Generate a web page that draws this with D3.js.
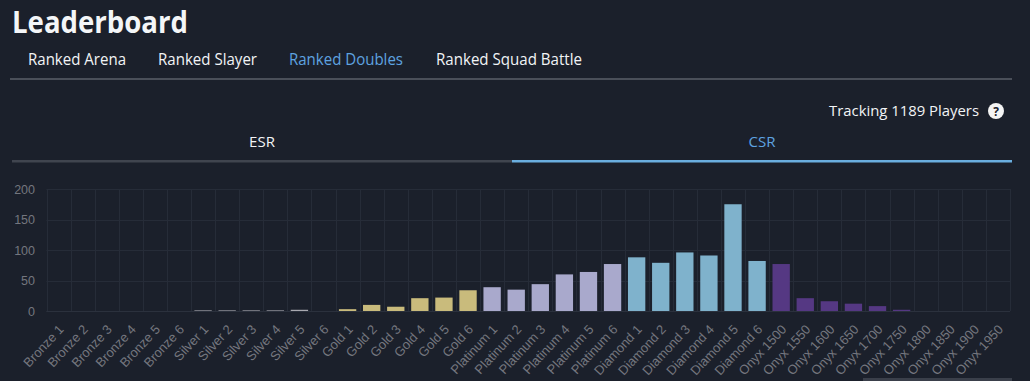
<!DOCTYPE html>
<html><head><meta charset="utf-8">
<script src="https://cdn.jsdelivr.net/npm/d3@7/dist/d3.min.js"></script>
<style>
html,body{margin:0;padding:0;background:#1b202b;overflow:hidden;}
svg{display:block;}
</style></head>
<body>
<svg id="c" width="1030" height="381"></svg>
<script>
const categories = ["Bronze 1","Bronze 2","Bronze 3","Bronze 4","Bronze 5","Bronze 6",
 "Silver 1","Silver 2","Silver 3","Silver 4","Silver 5","Silver 6",
 "Gold 1","Gold 2","Gold 3","Gold 4","Gold 5","Gold 6",
 "Platinum 1","Platinum 2","Platinum 3","Platinum 4","Platinum 5","Platinum 6",
 "Diamond 1","Diamond 2","Diamond 3","Diamond 4","Diamond 5","Diamond 6",
 "Onyx 1500","Onyx 1550","Onyx 1600","Onyx 1650","Onyx 1700","Onyx 1750","Onyx 1800","Onyx 1850","Onyx 1900","Onyx 1950"];
const players = [0,0,0,0,0,0,
 1,1,1,1,2,0,
 3,10,7,21,22,34,
 39,35,44,60,64,77,
 88,79,96,91,175,82,
 77,21,16,12,8,2,0,0,0,0];
const tiers = ["Bronze","Silver","Gold","Platinum","Diamond","Onyx"];
const tierColors = ["#b08a6a","#a9a9b0","#c9bb7c","#a9a9cc","#7fb2cc","#553883"];
const yTicks = [0,50,100,150,200];
const navTabs = ["Ranked Arena","Ranked Slayer","Ranked Doubles","Ranked Squad Battle"];
const activeNav = "Ranked Doubles";
const modeTabs = ["ESR","CSR"];
const activeMode = "CSR";
const trackedPlayers = 1189;

const svg = d3.select("#c");
const W = 1030, H = 381;
svg.append("rect").attr("width",W).attr("height",H).attr("fill","#1b202b");

const uiFont = "'Open Sans', 'Noto Sans', sans-serif";
svg.append("text").attr("x",12).attr("y",33).attr("fill","#f4f6f8")
  .attr("font-family",uiFont).attr("font-weight",700).attr("font-size",31)
  .attr("textLength",176).attr("lengthAdjust","spacingAndGlyphs")
  .text("Leaderboard");

const navX = [28,158,289,436];
const navW = [98,99,114,146];
navTabs.forEach((t,i)=>{
  svg.append("text").attr("x",navX[i]).attr("y",65)
    .attr("fill", t===activeNav ? "#5ea3e0" : "#f2f4f6")
    .attr("font-family",uiFont).attr("font-size",15.5)
    .attr("textLength",navW[i]).attr("lengthAdjust","spacingAndGlyphs")
    .text(t);
});
svg.append("rect").attr("x",10).attr("y",78).attr("width",1002).attr("height",2).attr("fill","#4a4f59");

svg.append("text").attr("x",979).attr("y",115.5).attr("text-anchor","end")
  .attr("fill","#f2f4f6").attr("font-family",uiFont).attr("font-size",15)
  .attr("textLength",150).attr("lengthAdjust","spacingAndGlyphs")
  .text(`Tracking ${trackedPlayers} Players`);
svg.append("circle").attr("cx",996).attr("cy",111).attr("r",8).attr("fill","#f4f4f4");
svg.append("text").attr("x",996).attr("y",115.5).attr("text-anchor","middle")
  .attr("fill","#1b202b").attr("font-family",uiFont).attr("font-weight",700).attr("font-size",12).text("?");

modeTabs.forEach((t,i)=>{
  const x0 = 12 + i*500;
  svg.append("text").attr("x",x0+250).attr("y",147).attr("text-anchor","middle")
    .attr("fill", t===activeMode ? "#5ea3e0" : "#f2f4f6")
    .attr("font-family",uiFont).attr("font-size",15).text(t);
  svg.append("rect").attr("x",x0).attr("y",160).attr("width",500).attr("height",2.5)
    .attr("fill", t===activeMode ? "#6aaedf" : "#40454f");
});

const m = {left:46.5, right:1010, top:189, bottom:311};
const x = d3.scaleBand().domain(categories).range([m.left,m.right]).paddingInner(0).paddingOuter(0);
const y = d3.scaleLinear().domain([0,200]).range([m.bottom,m.top]);

const g = svg.append("g");
const gridColor = "#262c38";
g.selectAll(".hg").data(yTicks).join("line")
  .attr("x1",m.left).attr("x2",m.right).attr("y1",d=>Math.round(y(d))+0.5).attr("y2",d=>Math.round(y(d))+0.5)
  .attr("stroke",gridColor).attr("stroke-width",1);
const vlines = categories.map(c=>x(c)).concat([m.right]);
g.selectAll(".vg").data(vlines).join("line")
  .attr("x1",d=>Math.round(d)+0.5).attr("x2",d=>Math.round(d)+0.5).attr("y1",m.top).attr("y2",m.bottom)
  .attr("stroke",gridColor).attr("stroke-width",1);
g.append("line").attr("x1",m.left).attr("x2",m.right).attr("y1",m.bottom+0.5).attr("y2",m.bottom+0.5)
  .attr("stroke","#2b313d");

const axisFont = "'Liberation Sans', Arial, sans-serif";
const labelColor = "#74767e";
g.selectAll(".yl").data(yTicks).join("text")
  .attr("x",35).attr("y",d=>y(d)+4.5).attr("text-anchor","end")
  .attr("fill",labelColor).attr("font-family",axisFont).attr("font-size",12.5).text(d=>d);

const bw = x.bandwidth()*0.72;
g.selectAll(".bar").data(categories).join("rect")
  .attr("x",d=>x(d)+(x.bandwidth()-bw)/2)
  .attr("width",bw)
  .attr("y",(d,i)=>y(players[i]))
  .attr("height",(d,i)=>y(0)-y(players[i]))
  .attr("fill",d=>tierColors[tiers.indexOf(d.split(" ")[0])]);

g.selectAll(".xl").data(categories).join("text")
  .attr("text-anchor","end")
  .attr("transform",d=>`translate(${x(d)+x.bandwidth()/2+6},${m.bottom+19}) rotate(-47)`)
  .attr("fill",labelColor).attr("font-family",axisFont).attr("font-size",13).text(d=>d);

svg.append("rect").attr("x",863).attr("y",378).attr("width",149).attr("height",3).attr("fill","#3a3f4a");
</script>
</body></html>
